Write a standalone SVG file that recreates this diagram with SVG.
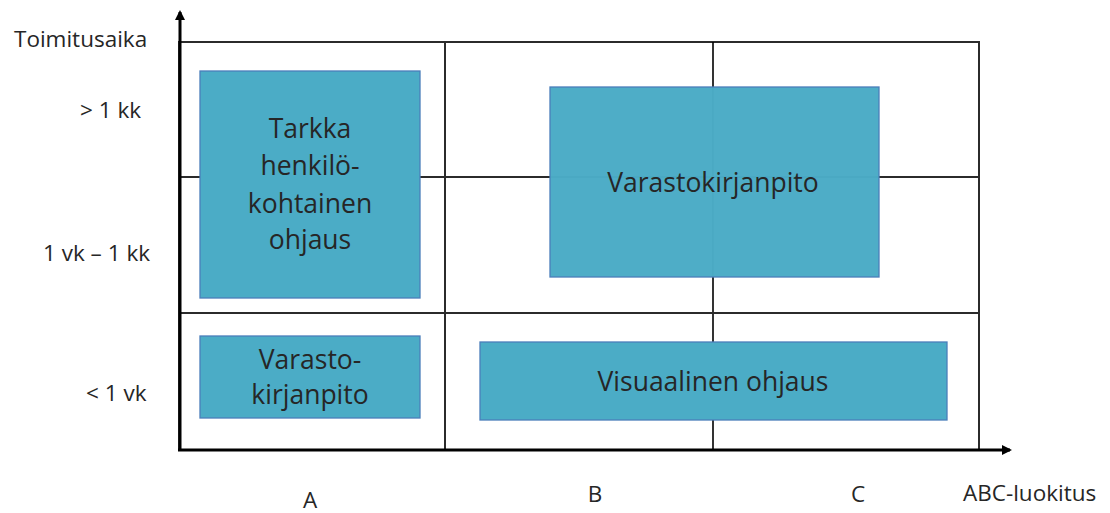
<svg xmlns="http://www.w3.org/2000/svg" width="1110" height="513" viewBox="0 0 1110 513">
<defs>
<style>
.grid{stroke:#2b2b2b;stroke-width:2;fill:none}
.axis{stroke:#000;stroke-width:3;fill:none}
.box{fill:#4BACC6;stroke:#4A7EBB;stroke-width:1.3}
.bt{font-family:"Open Sans","Noto Sans",sans-serif;font-size:26.5px;fill:#262626;text-anchor:middle}
.lbl{font-family:"Open Sans","Noto Sans",sans-serif;font-size:22.5px;fill:#262626}
</style>
<marker id="arr" markerWidth="10" markerHeight="10" refX="8" refY="5" orient="auto" markerUnits="userSpaceOnUse">
<path d="M0,0 L10,5 L0,10 Z" fill="#000"/>
</marker>
</defs>
<rect width="1110" height="513" fill="#fff"/>
<g id="connectors">
<rect class="grid" x="179" y="42" width="800" height="408"/>
<line class="grid" x1="445" y1="42" x2="445" y2="450"/>
<line class="grid" x1="713" y1="42" x2="713" y2="450" style="stroke:#000;stroke-width:1.6"/>
<line class="grid" x1="179" y1="177" x2="979" y2="177"/>
<line class="grid" x1="179" y1="313" x2="979" y2="313"/>
<line class="axis" x1="180" y1="451" x2="180" y2="12" marker-end="url(#arr)"/>
<line class="axis" x1="178" y1="450" x2="1010" y2="450" marker-end="url(#arr)"/>
</g>
<g id="labels">
<text class="lbl" x="14" y="47">Toimitusaika</text>
<text class="lbl" x="80" y="118">&gt; 1 kk</text>
<text class="lbl" x="43" y="261">1 vk – 1 kk</text>
<text class="lbl" x="86" y="401">&lt; 1 vk</text>
<text class="lbl" x="310" y="508" text-anchor="middle">A</text>
<text class="lbl" x="595" y="502" text-anchor="middle">B</text>
<text class="lbl" x="858" y="502" text-anchor="middle">C</text>
<text class="lbl" x="963" y="501">ABC-luokitus</text>
</g>
<g id="node-tarkka">
<rect class="box" x="200" y="71" width="220" height="227"/>
<text class="bt" x="310" y="138">Tarkka</text>
<text class="bt" x="310" y="175">henkilö-</text>
<text class="bt" x="310" y="213">kohtainen</text>
<text class="bt" x="310" y="249">ohjaus</text>
</g>
<g id="node-varastokirjanpito-bc">
<rect class="box" x="550" y="87" width="329" height="190" style="fill-opacity:0.985"/>
<text class="bt" x="713" y="192">Varastokirjanpito</text>
</g>
<g id="node-varastokirjanpito-a">
<rect class="box" x="200" y="336" width="220" height="82"/>
<text class="bt" x="310" y="369">Varasto-</text>
<text class="bt" x="310" y="404">kirjanpito</text>
</g>
<g id="node-visuaalinen">
<rect class="box" x="480" y="342" width="467" height="78"/>
<text class="bt" x="713" y="391">Visuaalinen ohjaus</text>
</g>
</svg>
